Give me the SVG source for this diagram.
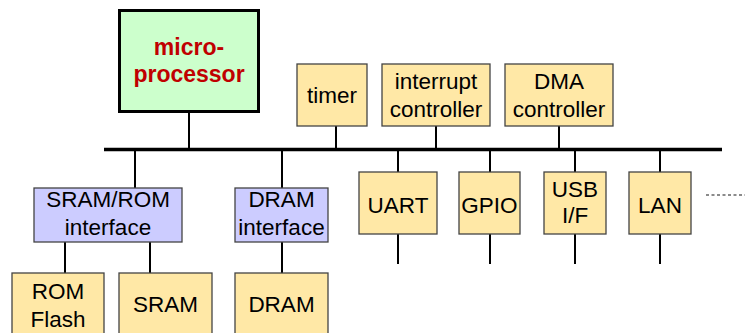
<svg xmlns="http://www.w3.org/2000/svg" width="745" height="333" viewBox="0 0 745 333">
  <style>
    .box { stroke: #444; stroke-width: 1.3; }
    .io { fill: #ffe8a6; }
    .ifc { fill: #ccccff; }
    .cpu { fill: #ccffcc; stroke: #000; stroke-width: 3; }
    .lbl { font-family: "Liberation Sans", Arial, sans-serif; font-size: 22.5px; fill: #000; text-anchor: middle; }
    .cpu-lbl { font-family: "Liberation Sans", Arial, sans-serif; font-size: 23px; font-weight: bold; fill: #c00000; text-anchor: middle; }
    .wire { stroke: #000; stroke-width: 2; fill: none; }
    .bus { stroke: #000; stroke-width: 3.5; fill: none; }
    .more { stroke: #666; stroke-width: 1.5; stroke-dasharray: 3 2.5; fill: none; }
  </style>

  <!-- connectors -->
  <g id="connectors">
    <line class="bus" x1="104" y1="149.5" x2="722" y2="149.5"/>
    <line class="wire" x1="189" y1="112" x2="189" y2="149"/>
    <line class="wire" x1="336" y1="126" x2="336" y2="149"/>
    <line class="wire" x1="436" y1="126" x2="436" y2="149"/>
    <line class="wire" x1="559" y1="126" x2="559" y2="149"/>
    <line class="wire" x1="135" y1="150" x2="135" y2="188"/>
    <line class="wire" x1="282" y1="150" x2="282" y2="188"/>
    <line class="wire" x1="65" y1="242" x2="65" y2="273"/>
    <line class="wire" x1="150" y1="242" x2="150" y2="273"/>
    <line class="wire" x1="282" y1="242" x2="282" y2="273"/>
    <line class="wire" x1="398" y1="150" x2="398" y2="172"/>
    <line class="wire" x1="490" y1="150" x2="490" y2="172"/>
    <line class="wire" x1="575" y1="150" x2="575" y2="172"/>
    <line class="wire" x1="660" y1="150" x2="660" y2="172"/>
    <line class="wire" x1="398" y1="234" x2="398" y2="264"/>
    <line class="wire" x1="490" y1="234" x2="490" y2="264"/>
    <line class="wire" x1="575" y1="234" x2="575" y2="264"/>
    <line class="wire" x1="660" y1="234" x2="660" y2="264"/>
    <line class="more" x1="706" y1="195" x2="745" y2="195"/>
  </g>

  <g id="cpu">
    <rect class="cpu" x="119.5" y="10.5" width="139" height="101"/>
    <text class="cpu-lbl" x="189" y="55">micro-</text>
    <text class="cpu-lbl" x="189" y="82">processor</text>
  </g>

  <g id="timer">
    <rect class="box io" x="297" y="64" width="70" height="62"/>
    <text class="lbl" x="332" y="103">timer</text>
  </g>

  <g id="irq">
    <rect class="box io" x="382" y="64" width="108" height="62"/>
    <text class="lbl" x="436" y="89">interrupt</text>
    <text class="lbl" x="436" y="117">controller</text>
  </g>

  <g id="dma">
    <rect class="box io" x="505" y="64" width="108" height="62"/>
    <text class="lbl" x="559" y="89">DMA</text>
    <text class="lbl" x="559" y="117">controller</text>
  </g>

  <g id="sram-rom-if">
    <rect class="box ifc" x="34" y="188" width="148" height="54"/>
    <text class="lbl" x="108" y="207">SRAM/ROM</text>
    <text class="lbl" x="108" y="235">interface</text>
  </g>

  <g id="dram-if">
    <rect class="box ifc" x="235" y="188" width="93" height="54"/>
    <text class="lbl" x="281.5" y="207">DRAM</text>
    <text class="lbl" x="281.5" y="235">interface</text>
  </g>

  <g id="rom-flash">
    <rect class="box io" x="12" y="273" width="92" height="70"/>
    <text class="lbl" x="58" y="299">ROM</text>
    <text class="lbl" x="58" y="327">Flash</text>
  </g>

  <g id="sram">
    <rect class="box io" x="119" y="273" width="93" height="70"/>
    <text class="lbl" x="165.5" y="312">SRAM</text>
  </g>

  <g id="dram">
    <rect class="box io" x="235" y="273" width="93" height="70"/>
    <text class="lbl" x="281.5" y="312">DRAM</text>
  </g>

  <g id="uart">
    <rect class="box io" x="359" y="172" width="78" height="62"/>
    <text class="lbl" x="398" y="213">UART</text>
  </g>

  <g id="gpio">
    <rect class="box io" x="459" y="172" width="61" height="62"/>
    <text class="lbl" x="489.5" y="213">GPIO</text>
  </g>

  <g id="usb">
    <rect class="box io" x="544" y="172" width="62" height="62"/>
    <text class="lbl" x="575" y="197">USB</text>
    <text class="lbl" x="575" y="223">I/F</text>
  </g>

  <g id="lan">
    <rect class="box io" x="629" y="172" width="62" height="62"/>
    <text class="lbl" x="660" y="213">LAN</text>
  </g>
</svg>
